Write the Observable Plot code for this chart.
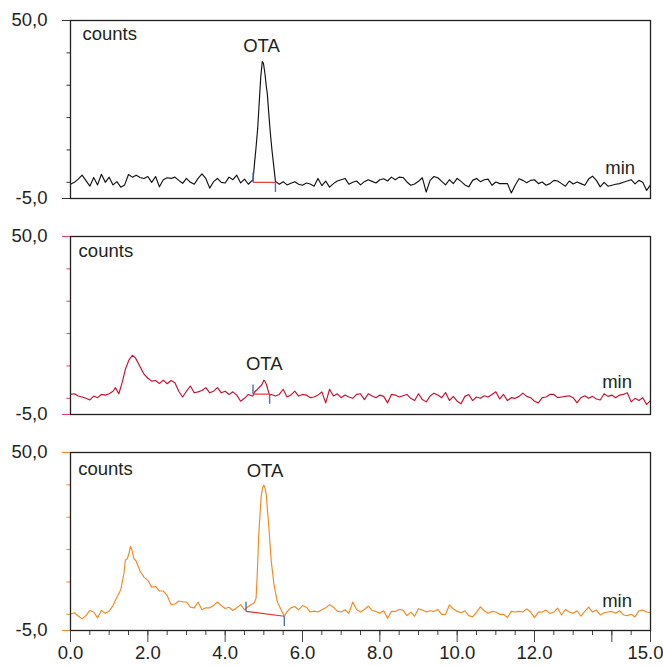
<!DOCTYPE html>
<html>
<head>
<meta charset="utf-8">
<script src="https://cdn.jsdelivr.net/npm/d3@7"></script>
<script src="https://cdn.jsdelivr.net/npm/@observablehq/plot@0.6"></script>
<style>
  html, body { margin: 0; padding: 0; background: #fff; overflow: hidden; }
  #chart svg { display: block; }
</style>
</head>
<body>
<div id="chart"></div>
<script>
// ---- data (time step 0.1 min, 0.0 .. 15.0) ----
const traceA = [
  -0.6, 0.0, 1.0, 2.2, 0.5, -1.2, 1.5, -0.8, 2.5, 0.0,
  1.6, -0.8, 0.2, -1.5, -0.8, 2.4, 1.6, 2.2, 1.5, 1.2,
  1.8, 0.0, 1.8, -1.4, 0.8, 1.4, 1.2, 1.6, 0.6, -0.3,
  1.2, 0.0, -0.6, 1.2, 2.6, 1.2, -1.8, 0.2, 1.2, 0.0,
  -0.2, 1.6, 0.8, 2.2, -0.2, 1.0, -0.6, 0.6, 11.0, 28.5,
  36.3, 25.8, 11.2, 0.3, -0.6, 0.2, -0.8, -0.3, 0.2, -0.6,
  -0.9, -0.2, -0.5, -1.2, 1.2, -1.0, 0.4, -1.5, -0.4, 0.4,
  0.8, 1.2, -0.6, 0.0, 0.4, -0.8, 0.2, 0.8, 0.3, -0.2,
  0.8, 1.1, 0.4, 1.6, 0.8, 1.6, 1.5, 0.1, -0.9, -0.5,
  0.3, 1.4, -3.0, 0.6, 1.8, 1.4, 0.3, -0.8, 0.8, -0.4,
  1.2, 0.3, -0.8, -1.4, 0.6, 1.2, 0.2, 0.8, 1.0, -0.9,
  0.1, -0.4, -0.4, -0.4, -3.3, -0.9, 1.1, 0.6, -0.1, 0.6,
  0.8, -0.4, 0.1, -0.9, -0.4, 0.6, 0.4, -0.4, -1.2, 0.4,
  -0.5, 0.1, -0.4, -0.9, 1.0, 1.9, 0.6, -1.4, 0.0, -1.2,
  -0.9, -0.6, -0.4, 0.0, 0.4, 0.8, -0.5, 0.6, 0.0, -2.5,
  -0.8
];
const traceB = [
  1.2, 1.4, 0.7, 0.4, 0.0, -0.5, 0.7, 0.2, 1.2, 1.0,
  1.4, 2.2, 2.5, 3.4, 8.0, 11.5, 13.3, 12.2, 9.8, 7.5,
  6.2, 5.3, 5.5, 4.6, 5.6, 4.5, 5.5, 4.8, 2.2, 0.4,
  2.2, 3.8, 1.7, 2.0, 2.4, 3.3, 1.7, 2.2, 3.3, 1.7,
  2.2, 1.2, 2.0, 1.0, -0.9, 0.0, 1.2, 0.7, 2.2, 3.5,
  5.6, 3.0, 1.2, 0.7, 1.2, 2.8, 0.4, 1.0, 2.2, 0.7,
  1.2, 1.0, 0.2, 0.4, 1.0, 2.0, -1.4, 2.8, 0.7, 1.4,
  0.2, 1.0, 0.4, 0.0, 1.2, 1.4, -0.4, 1.4, 0.7, 0.2,
  1.0, 0.6, -1.4, 1.2, 1.0, 0.4, 0.8, 1.2, 0.0, -0.7,
  1.4, -0.4, -1.1, 0.7, 1.6, 1.0, 0.2, 1.8, -0.7, 0.6,
  -0.9, -1.7, 0.6, 1.2, -0.7, 0.4, 0.0, 0.8, 0.4, 1.2,
  2.0, -0.2, 1.2, -0.7, 0.2, 0.0, 0.6, 1.6, 0.6, 0.2,
  -0.9, -1.4, 0.2, 0.4, 1.2, 1.2, 0.2, 0.4, 0.6, 0.8,
  0.2, -1.4, 0.2, 0.8, 0.0, 0.6, -0.2, -0.5, 1.4, 0.6,
  1.0, 0.2, 1.0, 1.2, 1.7, -1.1, 0.0, -0.7, 0.2, -1.9,
  -0.7
];
const traceC = [
  0.1, 0.5, -0.5, -1.4, -0.4, 1.2, 0.7, -1.1, 1.2, 0.3,
  1.0, 2.7, 5.3, 7.6, 14.5, 18.3, 19.5, 16.4, 13.3, 11.5,
  10.5, 8.4, 8.6, 7.2, 7.2, 5.8, 3.0, 3.2, 4.1, 3.8,
  3.8, 2.2, 2.0, 3.8, 1.4, 2.0, 2.0, 2.7, 3.8, 2.7,
  1.8, 2.2, 1.2, 2.0, 3.0, 1.4, 2.4, 3.2, 5.0, 30.5,
  39.9, 31.5, 15.5, 6.5, 2.5, 0.4, 0.8, 2.0, 2.4, 1.4,
  2.7, 2.2, 0.7, 1.0, 0.7, 1.4, 2.0, 3.0, 2.2, 1.0,
  0.7, 1.4, 0.3, 3.8, 1.4, 0.7, 1.5, 2.5, 1.2, 0.9,
  0.3, 1.1, -1.2, 0.9, 0.9, 1.5, 1.3, -0.4, 0.7, -0.6,
  1.7, 1.3, 0.7, 1.1, 0.9, 1.5, 0.0, 0.0, 2.9, 1.7,
  0.9, 0.5, 1.1, -0.4, -0.8, 0.7, 2.3, 1.1, 0.3, 0.9,
  0.7, 0.0, 0.0, -1.0, 0.9, 0.7, 0.9, 0.7, 1.7, 0.7,
  -1.0, 0.7, 0.7, 1.3, 0.3, 0.7, 1.9, -0.2, 1.5, 0.7,
  0.3, 1.1, -0.6, 0.9, 2.2, 0.7, 1.3, -0.2, 0.5, 0.7,
  0.9, 0.3, 1.1, -0.2, -0.4, 0.0, -0.8, 1.1, 1.3, 0.7,
  0.5
];

// finer readings around the peaks
const peakA_t = [4.72, 4.76, 4.80, 4.84, 4.88, 4.92, 4.96, 4.99, 5.03, 5.06, 5.09, 5.13, 5.17, 5.21, 5.26, 5.30];
const peakA_v = [0.5, 6.0, 11.0, 16.5, 24.5, 32.5, 37.3, 36.8, 33.5, 30.0, 27.4, 21.0, 15.0, 10.0, 4.7, 0.3];
const peak1B_t = [1.16, 1.25, 1.34, 1.42, 1.51, 1.60, 1.68, 1.81];
const peak1B_v = [3.3, 1.4, 5.0, 9.0, 11.8, 13.3, 12.5, 9.5];
const peak2B_t = [4.72, 4.75, 4.85, 4.95, 5.00, 5.03, 5.07, 5.12, 5.15];
const peak2B_v = [0.8, 1.8, 3.0, 4.2, 5.6, 5.2, 4.2, 2.0, 1.0];
const peak1C_t = [1.38, 1.42, 1.47, 1.51, 1.55, 1.59, 1.64];
const peak1C_v = [12.5, 16.7, 17.2, 18.7, 21.0, 19.8, 17.2];
const peak2C_t = [4.75, 4.80, 4.83, 4.87, 4.93, 4.97, 5.00, 5.03, 5.06, 5.13, 5.19, 5.26, 5.35, 5.44, 5.53];
const peak2C_v = [3.6, 5.0, 12.5, 24.9, 36.3, 39.2, 39.9, 39.0, 37.3, 27.0, 16.7, 9.4, 3.8, 1.6, -0.6];

// integration of the OTA peak (one entry per panel)
const integStart = [4.72, 4.72, 4.54];
const integEnd = [5.30, 5.15, 5.53];
const integStartLevel = [0, 1.3, 0.9];
const integEndLevel = [0, 1.3, -0.6];

// axis ticks and labels
const yMajorTicks = [50, -5];
const yTickLabels = ["50,0", "-5,0"];
const yMinorTicks = [40, 30, 20, 10, 0];
const xMajorTicks = [0, 2, 4, 6, 8, 10, 12, 14, 15];
const xTickLabels = ["0.0", "2.0", "4.0", "6.0", "8.0", "10.0", "12.0", "", "15.0"];
const xMinorTicks = d3.range(0, 15.001, 0.5);

// ---- build ----
function series(coarse, segments) {
  let pts = coarse.map((v, i) => ({t: i / 10, v}));
  for (const [ts, vs] of segments) {
    const lo = ts[0], hi = ts[ts.length - 1];
    pts = pts.filter(p => p.t < lo || p.t > hi);
    ts.forEach((t, i) => pts.push({t, v: vs[i]}));
  }
  return pts.sort((a, b) => a.t - b.t);
}

const panels = [
  {data: series(traceA, [[peakA_t, peakA_v]]), color: "#111111", tick: "#333333",
   counts: [0.31, 44.1], ota: [4.94, 40.2], min: [13.83, 2.7], h: 216, mb: 18},
  {data: series(traceB, [[peak1B_t, peak1B_v], [peak2B_t, peak2B_v]]), color: "#c8102e", tick: "#e8387e",
   counts: [0.21, 43.6], ota: [5.01, 8.7], min: [13.75, 3.1], h: 216, mb: 18},
  {data: series(traceC, [[peak1C_t, peak1C_v], [peak2C_t, peak2C_v]]), color: "#f5891f", tick: "#f5891f",
   counts: [0.20, 43.0], ota: [5.03, 42.3], min: [13.75, 2.2], h: 234, mb: 36, xAxis: true}
];

const font = "'Liberation Sans', Arial, Helvetica, sans-serif";
const textColor = "#231f20";
const yLabelMap = new Map(yMajorTicks.map((d, i) => [d, yTickLabels[i]]));
const xLabelMap = new Map(xMajorTicks.map((d, i) => [d, xTickLabels[i]]));
const lastX = xMajorTicks[xMajorTicks.length - 1];

const root = document.getElementById("chart");
panels.forEach((p, k) => {
  const marks = [
    Plot.axisY({ticks: yMinorTicks, tickSize: 3.5, tickFormat: () => "", stroke: p.tick, label: null}),
    Plot.axisY({ticks: yMajorTicks, tickSize: 8, tickPadding: 15, tickFormat: d => yLabelMap.get(d),
                stroke: p.tick, fill: textColor, label: null, fontSize: 18.5}),
    Plot.line(p.data, {x: "t", y: "v", stroke: p.color, strokeWidth: 1.15}),
    Plot.link([k], {x1: i => integStart[i], y1: i => integStartLevel[i],
                    x2: i => integEnd[i], y2: i => integEndLevel[i], stroke: "#e4322b", strokeWidth: 1.2}),
    Plot.link([k], {x1: i => integStart[i], x2: i => integStart[i],
                    y1: i => integStartLevel[i], y2: i => integStartLevel[i] + 3, stroke: "#4f6fb6", strokeWidth: 1.4}),
    Plot.link([k], {x1: i => integEnd[i], x2: i => integEnd[i],
                    y1: i => integEndLevel[i], y2: i => integEndLevel[i] - 3, stroke: "#4f6fb6", strokeWidth: 1.4}),
    Plot.text(["counts"], {x: () => p.counts[0], y: () => p.counts[1], text: d => d, textAnchor: "start", lineAnchor: "bottom", fill: textColor, fontSize: 18.5}),
    Plot.text(["OTA"], {x: () => p.ota[0], y: () => p.ota[1], text: d => d, textAnchor: "middle", lineAnchor: "bottom", fill: textColor, fontSize: 18.5}),
    Plot.text(["min"], {x: () => p.min[0], y: () => p.min[1], text: d => d, textAnchor: "start", lineAnchor: "bottom", fill: textColor, fontSize: 18.5}),
    Plot.frame({stroke: "#231f20", strokeWidth: 1.3})
  ];
  if (p.xAxis) {
    marks.unshift(
      Plot.axisX({ticks: xMinorTicks, tickSize: 5, tickFormat: () => "", stroke: "#444", label: null}),
      Plot.axisX({ticks: xMajorTicks, tickSize: 12, tickPadding: 3,
                  tickFormat: d => (d === lastX ? "" : xLabelMap.get(d)),
                  stroke: "#444", fill: textColor, label: null, fontSize: 18.5}),
      // last label kept inside the page edge
      Plot.text([lastX], {x: d => d, text: d => xLabelMap.get(d), frameAnchor: "bottom",
                          lineAnchor: "top", textAnchor: "end", dx: 13, dy: 15,
                          fill: textColor, fontSize: 18.5})
    );
  }
  const svg = Plot.plot({
    width: 663,
    height: p.h,
    marginLeft: 70,
    marginRight: 13,
    marginTop: 20,
    marginBottom: p.mb,
    x: p.xAxis ? {domain: [0, 15]} : {domain: [0, 15], axis: null},
    y: {domain: [-5, 50]},
    style: {fontFamily: font, fontSize: "18.5px", color: textColor, background: "white"},
    marks
  });
  root.appendChild(svg);
});
</script>
</body>
</html>
